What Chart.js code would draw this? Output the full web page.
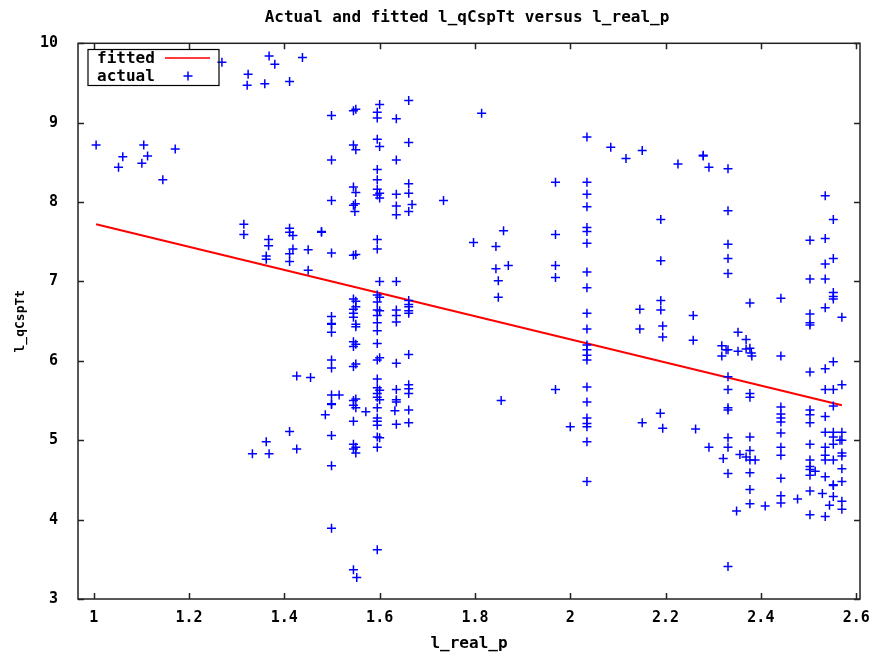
<!DOCTYPE html>
<html>
<head>
<meta charset="utf-8">
<title>Actual and fitted l_qCspTt versus l_real_p</title>
<script src="https://cdn.jsdelivr.net/npm/chart.js@4/dist/chart.umd.min.js"></script>
<style>
  html, body { margin: 0; padding: 0; background: #fff; }
  canvas { display: block; }
</style>
</head>
<body>
<canvas id="chart" width="881" height="656"></canvas>
<script>
// values, one entry per column of points (x value -> list of y values)
const actualColX = [
    1.005, 1.052, 1.061, 1.101, 1.105, 1.113, 1.145, 1.171, 1.269, 1.315,
    1.322, 1.324, 1.333, 1.359, 1.362, 1.367, 1.368, 1.380, 1.411, 1.418,
    1.426, 1.438, 1.450, 1.455, 1.478, 1.486, 1.499, 1.515, 1.545, 1.548,
    1.549, 1.550, 1.552, 1.571, 1.595, 1.600, 1.632, 1.635, 1.661, 1.668,
    1.734, 1.797, 1.814, 1.844, 1.849, 1.855, 1.860, 1.870, 1.969, 2.000,
    2.035, 2.085, 2.117, 2.146, 2.151, 2.189, 2.190, 2.194, 2.226, 2.258,
    2.263, 2.279, 2.291, 2.318, 2.321, 2.327, 2.331, 2.349, 2.352, 2.356,
    2.369, 2.377, 2.380, 2.381, 2.388, 2.409, 2.442, 2.477, 2.503, 2.514,
    2.529, 2.535, 2.544, 2.552, 2.566, 2.570
];
const actualColY = [
    [8.72], [8.44], [8.57], [8.49], [8.72], [8.58], [8.28], [8.67], [9.76], [7.72, 7.59],
    [9.47], [9.61], [4.83], [9.49], [7.32, 7.28, 4.98], [7.53, 7.45], [9.84, 4.83], [9.735],
    [9.52, 7.67, 7.62, 7.35, 7.25, 5.11], [7.58, 7.41],
    [5.81, 4.89], [9.82], [7.40, 7.14], [5.79], [7.62, 7.63], [5.32],
    [9.09, 8.53, 8.02, 7.36, 6.56, 6.47, 6.46, 6.36, 6.01, 5.91, 5.57, 5.46, 5.45, 5.06, 4.68, 3.89],
    [5.57],
    [9.15, 8.72, 8.19, 7.96, 7.33, 6.78, 6.65, 6.60, 6.55, 6.24, 6.18, 5.93, 5.50, 5.44, 5.24, 4.95, 4.89, 3.37],
    [7.88],
    [7.98],
    [9.17, 8.66, 8.12, 7.34, 6.75, 6.68, 6.46, 6.43, 6.21, 5.96, 5.52, 5.41, 4.91, 4.84],
    [3.27], [5.36],
    [9.13, 9.06, 8.79, 8.41, 8.28, 8.16, 8.09, 7.53, 7.41, 6.83, 6.74, 6.64, 6.57, 6.48, 6.38,
     6.22, 6.01, 5.77, 5.66, 5.59, 5.54, 5.41, 5.28, 5.24, 5.19, 5.04, 4.91, 3.62],
    [9.23, 8.70, 8.11, 8.05, 7.00, 6.80, 6.63, 6.04, 5.63, 5.51, 5.03],
    [5.37],
    [9.05, 8.53, 8.10, 7.95, 7.84, 7.00, 6.64, 6.57, 6.49, 5.97, 5.64, 5.51, 5.48, 5.20],
    [9.28, 8.75, 8.23, 8.11, 7.88, 6.76, 6.71, 6.68, 6.63, 6.60, 6.08, 5.70, 5.65, 5.59, 5.38, 5.22],
    [7.97],
    [8.02], [7.49], [9.12], [7.44, 7.16], [7.01, 6.80], [5.50], [7.64], [7.20],
    [8.25, 7.59, 7.20, 7.05, 5.64], [5.17],
    [8.82, 8.25, 8.10, 7.94, 7.68, 7.63, 7.48, 7.12, 6.92, 6.60, 6.40, 6.20, 6.14, 6.07, 6.01,
     5.67, 5.48, 5.28, 5.21, 5.17, 4.98, 4.48],
    [8.69], [8.55], [6.65, 6.40], [8.65, 5.22], [5.34], [7.78, 7.26, 6.76, 6.64], [6.44, 6.30, 5.15],
    [8.48], [6.57, 6.26],
    [5.14], [8.58, 8.59], [8.44, 4.91], [6.19, 6.06], [4.77], [6.14],
    [8.42, 7.89, 7.47, 7.29, 7.10, 6.14, 5.80, 5.64, 5.41, 5.38, 5.03, 4.91, 4.58, 3.41],
    [4.11], [6.36, 6.12], [4.82],
    [6.27, 6.15, 4.79], [6.73, 6.16, 5.59, 5.54, 5.04, 4.87, 4.75, 4.59, 4.38, 4.20], [6.10], [6.06], [4.75],
    [4.17], [6.79, 6.06, 5.42, 5.33, 5.28, 5.23, 5.09, 4.91, 4.81, 4.52, 4.30, 4.21], [4.26],
    [7.52, 7.03, 6.59, 6.48, 6.45, 5.86, 5.38, 5.32, 5.22, 4.95, 4.75, 4.67, 4.63, 4.56, 4.36, 4.06],
    [4.61],
    [4.33],
    [8.08, 7.54, 7.22, 7.03, 6.67, 5.90, 5.64, 5.30, 5.10, 4.91, 4.81, 4.75, 4.54, 4.04],
    [4.18],
    [7.78, 7.29, 6.86, 6.81, 6.78, 5.99, 5.64, 5.43, 5.10, 5.04, 4.95, 4.75, 4.44, 4.43, 4.29],
    [5.00],
    [6.55, 5.70, 5.10, 5.00, 4.84, 4.80, 4.64, 4.48, 4.23, 4.13]
];

// fitted line end points
const fittedX = [1.005, 2.570];
const fittedY = [7.72, 5.44];

const xTicks = [1, 1.2, 1.4, 1.6, 1.8, 2, 2.2, 2.4, 2.6];
const yTicks = [3, 4, 5, 6, 7, 8, 9, 10];

const titleText = "Actual and fitted l_qCspTt versus l_real_p";
const xLabel = "l_real_p";
const yLabel = "l_qCspTt";
const seriesNames = ["fitted", "actual"];

const MONO = "'DejaVu Sans Mono', 'Liberation Mono', monospace";

const actualPoints = [];
actualColX.forEach((x, i) => actualColY[i].forEach(y => actualPoints.push({ x, y })));
const fittedPoints = fittedX.map((x, i) => ({ x, y: fittedY[i] }));

// gnuplot-like frame: border box, inward ticks on all sides, title and key
const gnuplotFrame = {
    id: "gnuplotFrame",
    afterDatasetsDraw(chart) {
        const { ctx, chartArea: a, scales } = chart;
        ctx.save();
        ctx.strokeStyle = "#222";
        ctx.lineWidth = 1.5;
        ctx.strokeRect(a.left, a.top, a.right - a.left, a.bottom - a.top);

        const len = 6;
        ctx.beginPath();
        xTicks.forEach(v => {
            const px = Math.round(scales.x.getPixelForValue(v)) + 0.5;
            ctx.moveTo(px, a.bottom); ctx.lineTo(px, a.bottom - len);
            ctx.moveTo(px, a.top); ctx.lineTo(px, a.top + len);
        });
        yTicks.forEach(v => {
            const py = Math.round(scales.y.getPixelForValue(v)) + 0.5;
            ctx.moveTo(a.left, py); ctx.lineTo(a.left + len, py);
            ctx.moveTo(a.right, py); ctx.lineTo(a.right - len, py);
        });
        ctx.stroke();

        // title
        ctx.fillStyle = "#000";
        ctx.font = "bold 16px " + MONO;
        ctx.textAlign = "center";
        ctx.textBaseline = "middle";
        ctx.fillText(titleText, (a.left + a.right) / 2 - 2, 18);

        // key box
        const bx = 88, by = 49.5, bw = 131, bh = 36;
        ctx.strokeStyle = "#000";
        ctx.lineWidth = 1.2;
        ctx.strokeRect(bx, by, bw, bh);
        ctx.textAlign = "left";
        ctx.fillText(seriesNames[0], 97, 59);
        ctx.fillText(seriesNames[1], 97, 77);
        ctx.strokeStyle = "rgb(255,60,60)";
        ctx.lineWidth = 2;
        ctx.beginPath();
        ctx.moveTo(165, 58); ctx.lineTo(210, 58);
        ctx.stroke();
        ctx.strokeStyle = "rgb(0,0,255)";
        ctx.lineWidth = 1.5;
        ctx.beginPath();
        ctx.moveTo(183.5, 76); ctx.lineTo(192.5, 76);
        ctx.moveTo(188, 71.5); ctx.lineTo(188, 80.5);
        ctx.stroke();
        ctx.restore();
    }
};

new Chart(document.getElementById("chart"), {
    type: "scatter",
    data: {
        datasets: [{
            label: seriesNames[1],
            data: actualPoints,
            pointStyle: "cross",
            pointRadius: 4.5,
            borderColor: "rgb(0,0,255)",
            borderWidth: 1.5,
            showLine: false,
        }, {
            label: seriesNames[0],
            type: "line",
            data: fittedPoints,
            borderColor: "rgb(255,0,0)",
            borderWidth: 2,
            pointRadius: 0,
            showLine: true,
            fill: false,
        }]
    },
    options: {
        responsive: false,
        animation: false,
        devicePixelRatio: 1,
        layout: { padding: { top: 43.3, right: 21, left: 0, bottom: 0 } },
        plugins: {
            legend: { display: false },
            title: { display: false },
            tooltip: { enabled: false },
        },
        scales: {
            x: {
                type: "linear",
                min: 0.967,
                max: 2.608,
                afterFit: s => { s.height = 57; },
                afterBuildTicks: s => { s.ticks = xTicks.map(value => ({ value })); },
                grid: { display: false },
                border: { display: false },
                ticks: {
                    padding: 2,
                    color: "#000",
                    font: { family: MONO, size: 15, weight: "bold" },
                    callback: v => String(Math.round(v * 10) / 10),
                    maxRotation: 0,
                },
                title: {
                    display: true,
                    text: xLabel,
                    color: "#000",
                    font: { family: MONO, size: 16, weight: "bold", lineHeight: 1.2 },
                    padding: { top: 0, bottom: 3 },
                },
            },
            y: {
                type: "linear",
                min: 3,
                max: 10,
                afterFit: s => { s.width = 78; },
                afterBuildTicks: s => { s.ticks = yTicks.map(value => ({ value })); },
                grid: { display: false },
                border: { display: false },
                ticks: {
                    padding: 12,
                    color: "#000",
                    font: { family: MONO, size: 15, weight: "bold" },
                    callback: v => String(v),
                },
                title: {
                    display: true,
                    text: yLabel,
                    color: "#000",
                    font: { family: MONO, size: 13, weight: "bold", lineHeight: 1.2 },
                    padding: { top: 13, bottom: 0 },
                },
            },
        },
    },
    plugins: [gnuplotFrame],
});
</script>
</body>
</html>
